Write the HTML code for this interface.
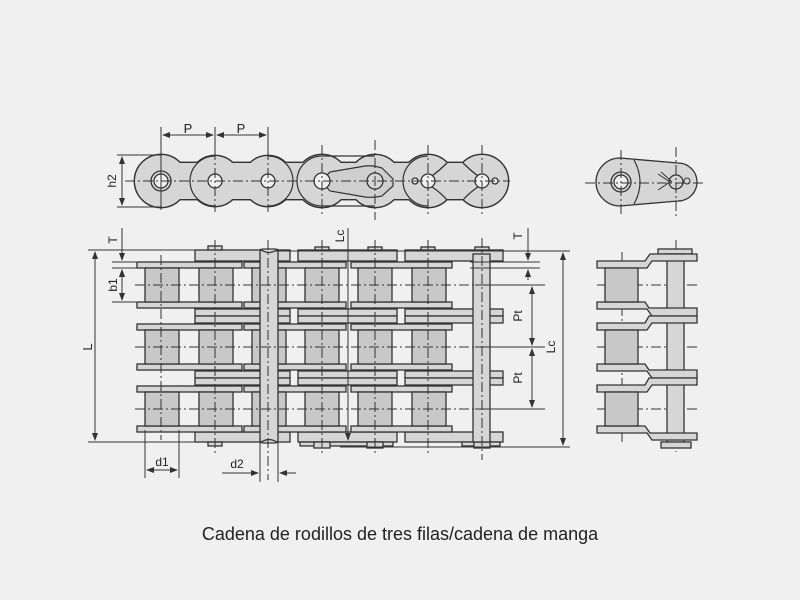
<!DOCTYPE html>
<html><head><meta charset="utf-8"><style>
html,body{margin:0;padding:0;background:#f0f0f0;}
svg{display:block}
text{font-family:"Liberation Sans",sans-serif;fill:#222}
</style></head><body>
<svg width="800" height="600" viewBox="0 0 800 600" xmlns="http://www.w3.org/2000/svg">
<rect width="800" height="600" fill="#f0f0f0"/>
<defs>
<marker id="a" markerWidth="8" markerHeight="6" refX="7" refY="3" orient="auto-start-reverse" markerUnits="userSpaceOnUse"><path d="M0,0 L8,3 L0,6z" fill="#333"/></marker>
</defs>

<!-- ===== TOP SIDE VIEW ===== -->
<g stroke="#333" stroke-width="2.8" fill="#d6d6d6">
<circle cx="161" cy="181" r="26"/><circle cx="215" cy="181" r="25"/><circle cx="268" cy="181" r="25"/>
<circle cx="322" cy="181" r="26"/><circle cx="375" cy="181" r="26"/><circle cx="428" cy="181" r="26"/><circle cx="482" cy="181" r="26"/>
<rect x="161" y="163" width="321" height="36"/>
</g>
<g fill="#d6d6d6">
<circle cx="161" cy="181" r="26"/><circle cx="215" cy="181" r="25"/><circle cx="268" cy="181" r="25"/>
<circle cx="322" cy="181" r="26"/><circle cx="375" cy="181" r="26"/><circle cx="428" cy="181" r="26"/><circle cx="482" cy="181" r="26"/>
<rect x="161" y="163" width="321" height="36"/>
</g>
<g stroke="#333" stroke-width="1.2" fill="none">
<path d="M215,156 A25,25 0 0 0 215,206"/>
<path d="M268,156 A25,25 0 0 1 268,206"/>
<path d="M322,156 A25,25 0 0 0 322,206 M322,156 L375,156 M322,206 L375,206"/>
<path d="M428,156 A25,25 0 0 0 428,206"/>
<path d="M330,172 L365,166 Q372,165 382,168 L393,179 L393,186 L382,196 Q372,198 365,197 L330,191 Q320,181 330,172z" fill="#cfcfcf"/>
</g>
<g stroke="#333" stroke-width="1.3" fill="#f0f0f0">
<circle cx="161" cy="181" r="10" fill="#d6d6d6"/><circle cx="161" cy="181" r="7"/>
<circle cx="215" cy="181" r="7"/><circle cx="268" cy="181" r="7"/>
<circle cx="322" cy="181" r="8"/><circle cx="375" cy="181" r="8" fill="#d6d6d6"/>
<circle cx="428" cy="181" r="7"/><circle cx="482" cy="181" r="7"/>
<circle cx="415" cy="181" r="3"/><circle cx="495" cy="181" r="3"/>
<path d="M432,187 Q440,192 447,200 M432,176 Q440,170 447,163" fill="none"/>
<path d="M478,187 Q470,192 463,200 M478,176 Q470,170 463,163" fill="none"/>
</g>
<g stroke="#333" stroke-width="1" stroke-dasharray="10,3,2,3" fill="none">
<path d="M125,181 H510"/>
<path d="M215,150 V212 M268,150 V212 M322,145 V214 M375,140 V220 M428,145 V214 M482,145 V214"/>
</g>
<!-- P dims -->
<g stroke="#333" stroke-width="1" fill="none">
<path d="M161,127 V210 M215,127 V160 M268,127 V160"/>
<path d="M163,135 H213" marker-start="url(#a)" marker-end="url(#a)"/>
<path d="M217,135 H266" marker-start="url(#a)" marker-end="url(#a)"/>
<path d="M117,155 H162 M117,207 H162"/>
<path d="M122,157 V205" marker-start="url(#a)" marker-end="url(#a)"/>
</g>
<text x="188" y="133" font-size="13" text-anchor="middle">P</text>
<text x="241" y="133" font-size="13" text-anchor="middle">P</text>
<text transform="translate(116,181) rotate(-90)" font-size="12" text-anchor="middle">h2</text>

<!-- right top view -->
<path d="M620,158 L678,163 A19,19 0 0 1 678,201 L620,206 A24,24 0 0 1 620,158z" fill="#d6d6d6" stroke="#333" stroke-width="1.3"/>
<path d="M634,160 Q646,182 634,204" fill="none" stroke="#333" stroke-width="1.2"/>
<circle cx="621" cy="182" r="10" fill="#d6d6d6" stroke="#333" stroke-width="1.3"/>
<circle cx="621" cy="182" r="7" fill="#f0f0f0" stroke="#333" stroke-width="1.3"/>
<circle cx="676" cy="182" r="7" fill="none" stroke="#333" stroke-width="1.3"/>
<circle cx="687" cy="181" r="3" fill="none" stroke="#333" stroke-width="1"/>
<path d="M658,174 L670,182 L658,190 M661,172 Q668,178 672,182" fill="none" stroke="#333" stroke-width="1"/>
<g stroke="#333" stroke-width="1" stroke-dasharray="10,3,2,3"><path d="M585,183 H705 M621,150 V215 M676,147 V218"/></g>

<!-- ===== FRONT VIEW ===== -->
<g stroke="#333" stroke-width="1.3" >
<g fill="#d6d6d6">
<rect x="195" y="250" width="95" height="11"/><rect x="298" y="250" width="99" height="11"/><rect x="405" y="250" width="98" height="11"/>
<rect x="195" y="432" width="95" height="10"/><rect x="298" y="432" width="99" height="10"/><rect x="405" y="432" width="98" height="10"/>
<rect x="195" y="309" width="95" height="7"/><rect x="195" y="316" width="95" height="7"/>
<rect x="298" y="309" width="99" height="7"/><rect x="298" y="316" width="99" height="7"/>
<rect x="405" y="309" width="98" height="7"/><rect x="405" y="316" width="98" height="7"/>
<rect x="195" y="371" width="95" height="7"/><rect x="195" y="378" width="95" height="7"/>
<rect x="298" y="371" width="99" height="7"/><rect x="298" y="378" width="99" height="7"/>
<rect x="405" y="371" width="98" height="7"/><rect x="405" y="378" width="98" height="7"/>
<rect x="300" y="442" width="93" height="4"/><rect x="314" y="442" width="16" height="6"/><rect x="367" y="442" width="16" height="6"/>
<rect x="462" y="442" width="38" height="4"/><rect x="474" y="442" width="16" height="6"/>
<rect x="208" y="246" width="14" height="4"/><rect x="315" y="247" width="14" height="3"/><rect x="368" y="247" width="14" height="3"/><rect x="421" y="247" width="14" height="3"/><rect x="475" y="247" width="14" height="3"/>
<rect x="208" y="442" width="14" height="4"/>
</g>
<g id="row">
<g fill="#d6d6d6">
<rect x="137" y="262" width="105" height="6"/><rect x="244" y="262" width="102" height="6"/><rect x="351" y="262" width="101" height="6"/>
<rect x="137" y="302" width="105" height="6"/><rect x="244" y="302" width="102" height="6"/><rect x="351" y="302" width="101" height="6"/>
</g>
<g fill="#c8c8c8">
<rect x="145" y="268" width="34" height="34"/><rect x="199" y="268" width="34" height="34"/>
<rect x="252" y="268" width="34" height="34"/><rect x="305" y="268" width="34" height="34"/>
<rect x="358" y="268" width="34" height="34"/><rect x="412" y="268" width="34" height="34"/>
</g>
</g>
<use href="#row" y="62"/>
<use href="#row" y="124"/>
<rect x="473" y="254" width="17" height="188" fill="#d6d6d6"/>
<rect x="260" y="249" width="18" height="194" rx="3" fill="#d6d6d6"/>
<path d="M260,249 Q269,256 278,249 M260,443 Q269,436 278,443" fill="none"/>
</g>
<g stroke="#333" stroke-width="1" stroke-dasharray="10,3,2,3" fill="none">
<path d="M135,285 H505 M135,347 H505 M135,409 H505"/>
<path d="M161,255 V440 M215,240 V455 M268,240 V480 M322,240 V455 M375,240 V455 M428,240 V455 M482,238 V460"/>
<path d="M597,285 H700 M597,347 H700 M597,409 H700 M622,252 V445 M676,240 V452"/>
</g>

<!-- right section view -->
<g stroke="#333" stroke-width="1.3" fill="#d6d6d6">
<rect x="658" y="249" width="34" height="5"/>
<rect x="667" y="254" width="17" height="192"/>
<rect x="661" y="442" width="30" height="6"/>
<path d="M597,261 H645 L650,254 H697 V261 H652 L647,268 H597z"/>
<path d="M597,302 H645 L649,308 H697 V316 H652 L647,309 H597z"/>
<path d="M597,323 H645 L649,316 H697 V323 H652 L647,330 H597z" />
<path d="M597,364 H645 L649,370 H697 V378 H652 L647,371 H597z"/>
<path d="M597,385 H645 L649,378 H697 V385 H652 L647,392 H597z"/>
<path d="M597,426 H645 L650,433 H697 V440 H652 L647,433 H597z"/>
<g fill="#c8c8c8"><rect x="605" y="268" width="33" height="34"/><rect x="605" y="330" width="33" height="34"/><rect x="605" y="392" width="33" height="34"/></g>
</g>

<!-- dimensions front -->
<g stroke="#333" stroke-width="1" fill="none">
<path d="M88,250 H200 M88,442 H200 M112,262 H140 M112,268 H145 M112,302 H145"/>
<path d="M95,252 V440" marker-start="url(#a)" marker-end="url(#a)"/>
<path d="M122,228 V260" marker-end="url(#a)"/>
<path d="M122,280 V270" marker-end="url(#a)"/>
<path d="M122,270 V300" marker-start="url(#a)" marker-end="url(#a)"/>
<path d="M145,430 V478 M179,430 V478"/>
<path d="M147,470 H177" marker-start="url(#a)" marker-end="url(#a)"/>
<path d="M260,443 V482 M278,443 V482"/>
<path d="M222,473 H258" marker-end="url(#a)"/>
<path d="M296,473 H280" marker-end="url(#a)"/>
<path d="M348,228 V440" marker-end="url(#a)"/>
<path d="M275,251 H570 M340,447 H570"/>
<path d="M470,262 H540 M470,268 H540 M475,285 H545 M475,347 H545 M475,409 H545"/>
<path d="M528,228 V260" marker-end="url(#a)"/>
<path d="M528,280 V270" marker-end="url(#a)"/>
<path d="M532,287 V345" marker-start="url(#a)" marker-end="url(#a)"/>
<path d="M532,349 V407" marker-start="url(#a)" marker-end="url(#a)"/>
<path d="M563,253 V445" marker-start="url(#a)" marker-end="url(#a)"/>
</g>
<text transform="translate(117,240) rotate(-90)" font-size="12" text-anchor="middle">T</text>
<text transform="translate(117,285) rotate(-90)" font-size="12" text-anchor="middle">b1</text>
<text transform="translate(92,347) rotate(-90)" font-size="13" text-anchor="middle">L</text>
<text x="162" y="466" font-size="12" text-anchor="middle">d1</text>
<text x="237" y="468" font-size="12" text-anchor="middle">d2</text>
<text transform="translate(344,236) rotate(-90)" font-size="12" text-anchor="middle">Lc</text>
<text transform="translate(522,236) rotate(-90)" font-size="12" text-anchor="middle">T</text>
<text transform="translate(522,316) rotate(-90)" font-size="12" text-anchor="middle">Pt</text>
<text transform="translate(522,378) rotate(-90)" font-size="12" text-anchor="middle">Pt</text>
<text transform="translate(555,347) rotate(-90)" font-size="12" text-anchor="middle">Lc</text>

<text x="400" y="540" font-size="18" text-anchor="middle">Cadena de rodillos de tres filas/cadena de manga</text>
</svg>
</body></html>
